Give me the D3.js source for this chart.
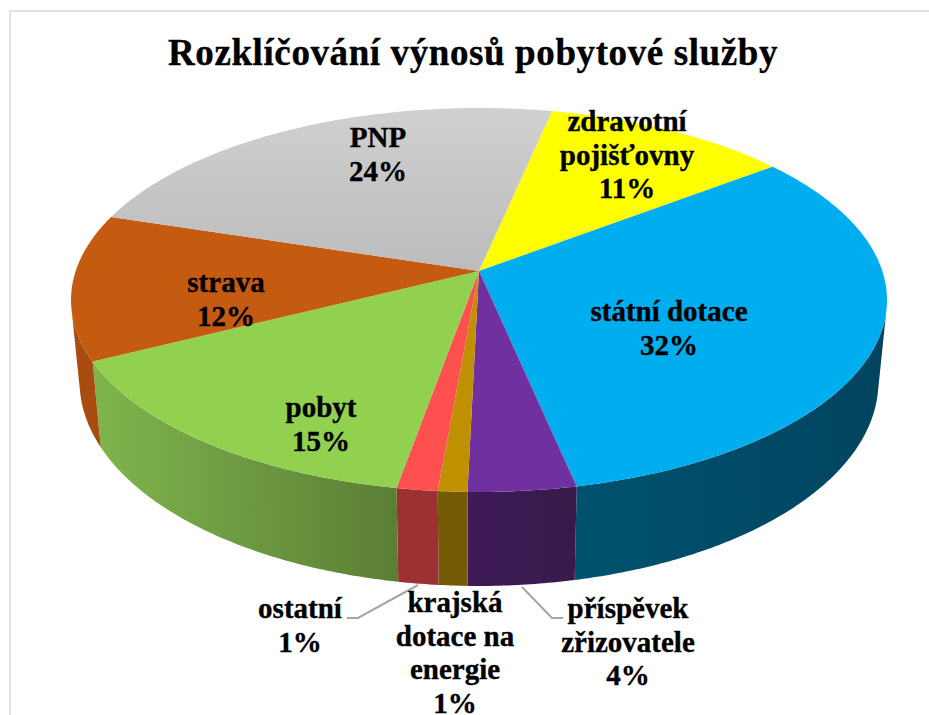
<html>

<head>
    <meta charset="utf-8">
    <script src="https://d3js.org/d3.v7.min.js"></script>
    <style>
        html,
        body {
            margin: 0;
            background: #fff;
        }

        svg {
            display: block;
        }

        text {
            font-family: "Liberation Serif", "Times New Roman", serif;
            font-weight: bold;
            fill: #000;
            stroke: #000;
            stroke-width: 0.35px;
        }
    </style>
</head>

<body>
    <svg height="715" width="929" id="pieSvg"></svg>
    <script>
        const title = "Rozklíčování výnosů pobytové služby";

        // clockwise, starting at the zdravotni/PNP edge
        const categories = ["zdravotní pojišťovny", "státní dotace", "příspěvek zřizovatele",
            "krajská dotace na energie", "ostatní", "pobyt", "strava", "PNP"];
        const shares = [11.3, 32.1, 3.7, 1.0, 1.4, 14.8, 12.3, 23.5];
        const percentLabels = ["11%", "32%", "4%", "1%", "1%", "15%", "12%", "24%"];

        const topColors = ["#ffff00", "#00aeef", "#7030a0", "#bf9000", "#ff5050", "#92d050", "#c55a11", "url(#pnpTop)"];
        const wallLeft = ["#8c8c00", "#00526f", "#3e1a58", "#745a05", "#9c3033", "#80b54d", "#a84c0f", "#707070"];
        const wallRight = ["#8c8c00", "#00445e", "#381a4a", "#745a05", "#9c3033", "#5b7e35", "#a84c0f", "#707070"];

        // label lines and where the centre of the first baseline sits
        const labelLines = [
            ["zdravotní", "pojišťovny", "11%"],
            ["státní dotace", "32%"],
            ["příspěvek", "zřizovatele", "4%"],
            ["krajská", "dotace na", "energie", "1%"],
            ["ostatní", "1%"],
            ["pobyt", "15%"],
            ["strava", "12%"],
            ["PNP", "24%"]
        ];
        const labelX = [627, 669, 628, 455, 300, 321, 226, 378];
        const labelY = [131, 321, 618, 612, 618, 417, 292, 147];

        const svg = d3.select("#pieSvg");
        const width = +svg.attr("width");
        const height = +svg.attr("height");

        // perspective view of a flat disc, fitted to the picture
        const apex = { x: 479, y: 271 };
        const rx = 403.3;
        const ry = 187.6;
        const persp = 0.151;
        const depth = 79.8;
        const bottomShrink = 0.979;

        function project(angle, onBottom) {
            const u = Math.sin(angle);
            const v = -Math.cos(angle);
            const w = 1 - persp * v;
            if (onBottom) {
                return [apex.x + bottomShrink * rx * u / w, apex.y + (ry * v + depth) / w];
            }
            return [apex.x + rx * u / w, apex.y + ry * v / w];
        }

        const startAngle = 12 * Math.PI / 180;
        const pie = d3.pie().sort(null).startAngle(startAngle).endAngle(startAngle + 2 * Math.PI);
        const slices = pie(shares);
        const line = d3.line();

        function arcAngles(d) {
            const n = Math.max(2, Math.ceil((d.endAngle - d.startAngle) / 0.01));
            return d3.range(n + 1).map(i => d.startAngle + (d.endAngle - d.startAngle) * i / n);
        }

        const defs = svg.append("defs");
        const pnpTop = defs.append("linearGradient")
            .attr("id", "pnpTop")
            .attr("gradientUnits", "userSpaceOnUse")
            .attr("x1", 0).attr("x2", 0)
            .attr("y1", apex.y - 163).attr("y2", apex.y);
        pnpTop.append("stop").attr("offset", 0).attr("stop-color", "#d0d0d0");
        pnpTop.append("stop").attr("offset", 1).attr("stop-color", "#bcbcbc");

        // chart frame
        svg.append("rect")
            .attr("x", 10)
            .attr("y", 11)
            .attr("width", width + 20)
            .attr("height", height + 20)
            .attr("fill", "none")
            .attr("stroke", "#e2e2e2")
            .attr("stroke-width", 2);

        svg.append("text")
            .attr("x", 473)
            .attr("y", 65)
            .attr("text-anchor", "middle")
            .style("font-size", "37px")
            .style("letter-spacing", "0.6px")
            .text(title);

        // side walls first, made of small quads so the tangent edge at the sides gets filled.
        // only the quads facing the viewer are kept
        slices.forEach((d, i) => {
            const angles = arcAngles(d);
            let path = "";
            const xs = [];
            d3.pairs(angles).forEach(([a0, a1]) => {
                const quad = [project(a0, false), project(a1, false), project(a1, true), project(a0, true)];
                if (d3.polygonArea(quad) > 0) {
                    path += line(quad) + "Z";
                    xs.push(quad[0][0], quad[1][0]);
                }
            });
            if (!path) return;

            const grad = defs.append("linearGradient")
                .attr("id", "wall" + i)
                .attr("gradientUnits", "userSpaceOnUse")
                .attr("x1", d3.min(xs)).attr("x2", d3.max(xs))
                .attr("y1", 0).attr("y2", 0);
            grad.append("stop").attr("offset", 0).attr("stop-color", wallLeft[i]);
            grad.append("stop").attr("offset", 1).attr("stop-color", wallRight[i]);

            svg.append("path")
                .attr("d", path)
                .attr("fill", `url(#wall${i})`);
        });

        // top face
        slices.forEach((d, i) => {
            const edge = arcAngles(d).map(a => project(a, false));
            svg.append("path")
                .attr("d", line([[apex.x, apex.y]].concat(edge)) + "Z")
                .attr("fill", topColors[i]);
        });

        // leader lines of the two outside labels
        const leaderData = [
            [[347, 618], [358, 618], [418, 585]],
            [[563, 618], [552, 618], [522, 587]]
        ];
        svg.selectAll(".leader").data(leaderData)
            .join("path")
            .attr("class", "leader")
            .attr("d", d => line(d))
            .attr("fill", "none")
            .attr("stroke", "#a6a6a6")
            .attr("stroke-width", 2);

        // labels
        categories.forEach((name, i) => {
            const label = svg.append("text")
                .attr("text-anchor", "middle")
                .attr("data-category", name)
                .attr("data-percent", percentLabels[i])
                .style("font-size", "29px");
            labelLines[i].forEach((t, j) => {
                label.append("tspan")
                    .attr("x", labelX[i])
                    .attr("y", labelY[i] + j * 33.5)
                    .text(t);
            });
        });
    </script>
</body>

</html>
